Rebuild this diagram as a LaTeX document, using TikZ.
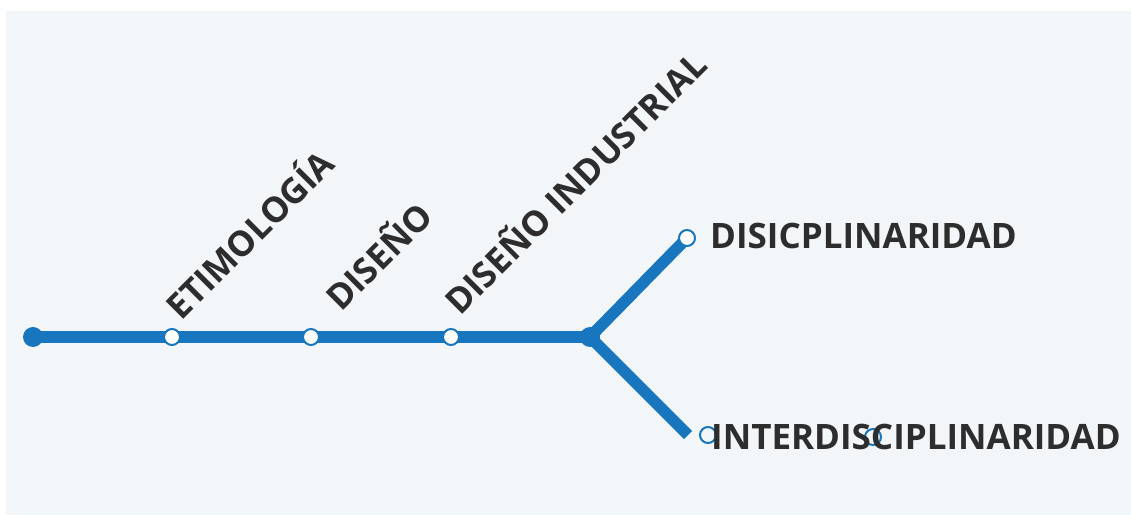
\documentclass[tikz,border=0pt]{standalone}
\usepackage{fontspec}
\setmainfont{Open Sans}
\definecolor{bgc}{RGB}{242,246,249}
\definecolor{lineblue}{RGB}{23,118,190}
\definecolor{txt}{RGB}{45,45,45}
\tikzset{
  route/.style={draw=lineblue, line width=11.5pt},
  endstop/.style={circle, fill=lineblue, minimum size=20pt, inner sep=0pt},
  stopring/.style={circle, draw=lineblue, fill=white, line width=2pt, minimum size=16pt, inner sep=0pt},
  ghostring/.style={circle, draw=lineblue, line width=2pt, minimum size=16pt, inner sep=0pt},
  diaglabel/.style={rotate=45, anchor=base west, inner sep=0pt, text=txt, font=\bfseries\fontsize{35}{38}\selectfont},
  flatlabel/.style={anchor=base west, inner sep=0pt, text=txt, font=\bfseries\fontsize{35}{38}\selectfont}
}
\begin{document}
\begin{tikzpicture}[x=1pt,y=1pt]
\useasboundingbox (0,0) rectangle (1131,516);
\fill[bgc] (6,1) rectangle (1131,505);
% nodes
\coordinate (start) at (33,179);
\coordinate (s1) at (172,179);
\coordinate (s2) at (311,179);
\coordinate (s3) at (451,179);
\coordinate (jn) at (590,179);
\coordinate (up) at (687,278);
\coordinate (low) at (688,81);
% routes
\draw[route] (start) -- (jn);
\draw[route] (jn) -- (up);
\draw[route] (jn) -- (low);
\node[endstop] (startdot) at (start) {};
\node[endstop] (jdot) at (jn) {};
\node[stopring] (c1) at (s1) {};
\node[stopring] (c2) at (s2) {};
\node[stopring] (c3) at (s3) {};
\node[stopring] (cup) at (up) {};
\node[ghostring] (g1) at (708,81) {};
\node[ghostring] (g2) at (873,79) {};
% labels
\node[diaglabel] (l1) at (181,194) {ETIMOLOGÍA};
\node[diaglabel] (l2) at (341,203) {DISEÑO};
\node[diaglabel] (l3) at (460,199) {DISEÑO INDUSTRIAL};
\node[flatlabel] (l4) at (710,267) {DISICPLINARIDAD};
\node[flatlabel] (l5) at (711,66) {INTERDISCIPLINARIDAD};
\end{tikzpicture}
\end{document}
